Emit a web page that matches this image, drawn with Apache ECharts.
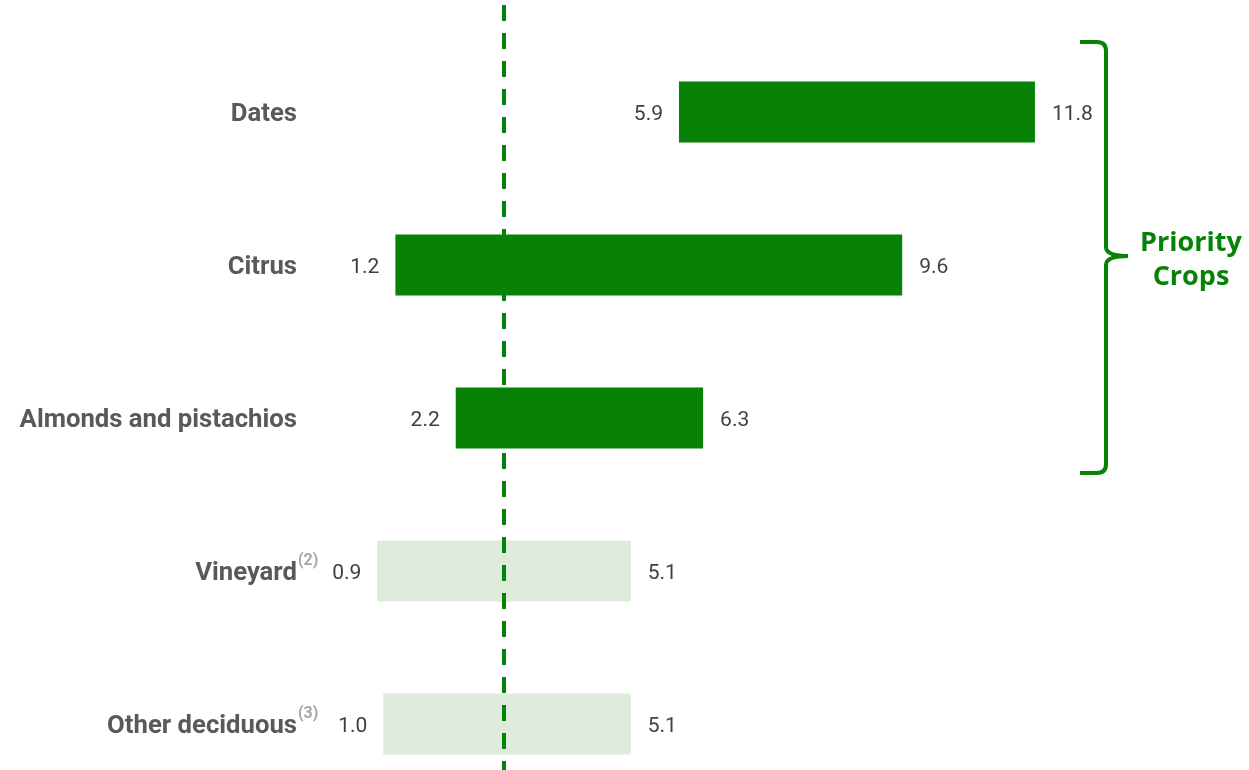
<!DOCTYPE html>
<html>
<head>
<meta charset="utf-8">
<script src="https://cdn.jsdelivr.net/npm/echarts@6/dist/echarts.min.js"></script>
<style>html,body{margin:0;padding:0;background:#fff}#c{width:1249px;height:770px}</style>
</head>
<body>
<div id="c"></div>
<script>
const categories = ['Dates', 'Citrus', 'Almonds and pistachios', 'Vineyard', 'Other deciduous'];
const footnotes = ['', '', '', '(2)', '(3)'];
const lowValues = [5.9, 1.2, 2.2, 0.9, 1.0];
const highValues = [11.8, 9.6, 6.3, 5.1, 5.1];
const priority = [true, true, true, false, false];
const referenceValue = 3.0;
const bracketText = 'Priority\nCrops';

const DARK = '#078207';
const LIGHT = '#dcebda';

const chart = echarts.init(document.getElementById('c'));
const spans = highValues.map((h, i) => +(h - lowValues[i]).toFixed(2));

const bStyle = { fill: null, stroke: DARK, lineWidth: 4 };
const seg = (x1, y1, x2, y2) => ({ type: 'line', shape: { x1, y1, x2, y2 }, style: bStyle });
const crv = (x1, y1, cx, cy, x2, y2) => ({ type: 'bezierCurve', shape: { x1, y1, x2, y2, cpx1: cx, cpy1: cy }, style: bStyle });

chart.setOption({
  animation: false,
  grid: { left: 323, width: 905, top: 35.5, height: 765, containLabel: false, outerBoundsMode: 'none' },
  xAxis: { type: 'value', min: 0, max: 15, show: false },
  yAxis: [
    {
      type: 'category', data: categories, inverse: true,
      axisLine: { show: false }, axisTick: { show: false },
      axisLabel: {
        margin: 26, fontFamily: 'Roboto', fontWeight: 'bold', fontSize: 25.7, color: '#595959',
        verticalAlign: 'top', lineHeight: 6
      }
    },
    {
      type: 'category', data: footnotes, inverse: true, position: 'left',
      axisLine: { show: false }, axisTick: { show: false },
      axisLabel: {
        margin: 25, align: 'left', verticalAlign: 'bottom', lineHeight: 20,
        fontFamily: 'Roboto', fontWeight: 'bold', fontSize: 16, color: '#a6a6a6'
      }
    }
  ],
  series: [
    {
      type: 'bar', stack: 'r', barWidth: '40%', silent: true,
      data: lowValues,
      itemStyle: { color: 'transparent' },
      label: {
        show: true, position: 'insideRight', distance: 16, offset: [0, 3],
        fontFamily: 'Roboto', fontSize: 21, color: '#404040',
        formatter: p => lowValues[p.dataIndex].toFixed(1)
      },
      markLine: {
        silent: true, symbol: 'none', animation: false,
        lineStyle: { color: DARK, width: 4, type: [16, 12] },
        label: { show: false },
        data: [[{ xAxis: referenceValue, y: 5 }, { xAxis: referenceValue, y: 775 }]]
      }
    },
    {
      type: 'bar', stack: 'r', barWidth: '40%',
      data: spans.map((v, i) => ({ value: v, itemStyle: { color: priority[i] ? DARK : LIGHT } })),
      label: {
        show: true, position: 'right', distance: 17, offset: [0, 3],
        fontFamily: 'Roboto', fontSize: 21, color: '#404040',
        formatter: p => highValues[p.dataIndex].toFixed(1)
      }
    }
  ],
  graphic: [
    seg(1080, 42, 1097, 42),
    crv(1097, 42, 1106, 42, 1106, 51),
    seg(1106, 51, 1106, 247),
    crv(1106, 247, 1106, 256, 1128, 256),
    crv(1128, 256, 1106, 256, 1106, 265),
    seg(1106, 265, 1106, 464),
    crv(1106, 464, 1106, 473, 1097, 473),
    seg(1097, 473, 1080, 473),
    {
      type: 'text', x: 1191, y: 260,
      style: {
        text: bracketText, fill: DARK, font: 'bold 27px "Open Sans"',
        align: 'center', verticalAlign: 'middle', lineHeight: 34
      }
    }
  ]
});
</script>
</body>
</html>
